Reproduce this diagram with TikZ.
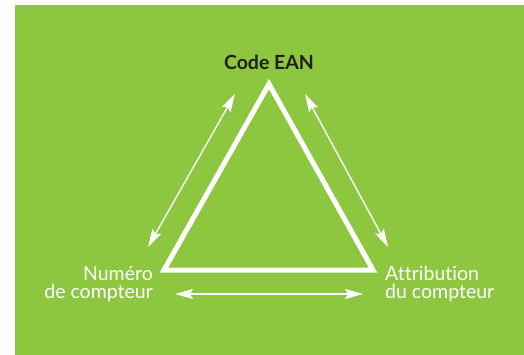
\documentclass[tikz,border=0pt]{standalone}
\usepackage{fontspec}
\setmainfont[Ligatures=NoCommon]{Lato}
\usetikzlibrary{arrows.meta}
\definecolor{eangreen}{HTML}{8DC63F}
\definecolor{eandark}{HTML}{231F20}

\begin{document}
\begin{tikzpicture}[x=1pt,y=-1pt,
  label/.style={text=white,font=\fontsize{19.5}{18}\selectfont\addfontfeature{Weight=300},inner sep=0pt},
  link/.style={white,line width=1.4pt,{Stealth[length=18pt,width=10pt,inset=3pt]}-{Stealth[length=18pt,width=10pt,inset=3pt]}}]

\useasboundingbox (0,0) rectangle (524,355);
\fill[eangreen] (15,5) rectangle (524,355);

% triangle
\coordinate (top) at (269,84);
\coordinate (left) at (164,270);
\coordinate (right) at (373,270);
\draw[white,line width=5pt,line join=miter] (top)--(left)--(right)--cycle;

% labels
\node[inner sep=0pt,text=eandark,font=\fontsize{19.5}{18}\selectfont\bfseries,anchor=base] (ean) at (269,70) {Code EAN};
\node[label,align=right,anchor=base east] (num) at (153,298) {Numéro\\de compteur};
\node[label,align=left,anchor=base west] (attr) at (385,298) {Attribution\\du compteur};

% arrows
\coordinate (l1) at (148,247);
\coordinate (l2) at (235,94);
\coordinate (r1) at (305,94);
\coordinate (r2) at (388,247);
\coordinate (b1) at (175,294);
\coordinate (b2) at (363,294);
\draw[link] (l1)--(l2);
\draw[link] (r1)--(r2);
\draw[link] (b1)--(b2);

\end{tikzpicture}
\end{document}
